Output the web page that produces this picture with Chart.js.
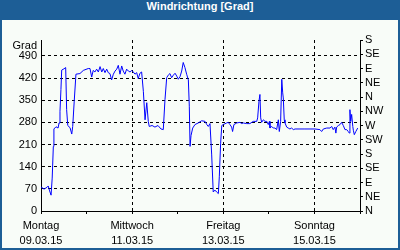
<!DOCTYPE html>
<html>
<head>
<meta charset="utf-8">
<script src="https://cdn.jsdelivr.net/npm/chart.js@4.4.1/dist/chart.umd.min.js"></script>
<style>
  html, body { margin: 0; padding: 0; background: #fff; }
  #frame { width: 400px; height: 250px; box-sizing: border-box; background: #1d5e96; padding: 0 2px 2px 2px; }
  #title { height: 20px; line-height: 20px; color: #fff; text-align: center; font: bold 11px "Liberation Sans", Arial, sans-serif; }
  #plot { width: 396px; height: 228px; background: #f8fcf8; }
  canvas { display: block; }
</style>
</head>
<body>
<div id="frame">
  <div id="title">Windrichtung [Grad]</div>
  <div id="plot"><canvas id="chart" width="396" height="228"></canvas></div>
</div>
<script>
// hours since Monday 09.03.15 00:00
const hours = [
  0, 1.6, 3.2, 3.8, 4.4, 5.3, 5.9, 6.5, 6.8, 7.9,
  9.0, 9.5, 10.0, 10.5, 10.9, 12.1, 13.0, 13.5, 14.1, 15.3,
  16.2, 16.7, 17.5, 18.4, 20.5, 22.3, 24.9, 25.8, 26.7, 27.5,
  28.4, 29.3, 30.2, 31.1, 32.0, 32.8, 33.7, 34.6, 35.4, 36.3,
  37.2, 38.1, 39.0, 39.9, 40.7, 41.6, 42.5, 43.3, 44.2, 45.1,
  46.0, 46.9, 47.8, 48.6, 49.5, 50.4, 51.2, 52.1, 53.0, 53.9,
  54.8, 55.7, 56.5, 57.0, 58.5, 60.0, 61.6, 63.2, 64.4, 65.3,
  66.2, 67.0, 67.9, 68.8, 69.7, 70.6, 71.5, 72.3, 73.2, 74.1,
  74.9, 75.8, 76.7, 77.6, 78.1, 78.5, 79.0, 79.9, 81.1, 82.8,
  84.6, 86.4, 87.3, 88.1, 89.0, 89.9, 90.7, 91.6, 92.5, 93.4,
  93.9, 94.6, 95.2, 96.0, 97.8, 98.6, 99.5, 100.4, 100.9, 101.6,
  103.1, 104.8, 105.7, 106.5, 108.3, 110.0, 111.8, 113.6, 114.1, 114.8,
  115.3, 115.7, 116.2, 117.1, 118.0, 118.9, 119.7, 120.3, 120.6, 121.5,
  122.3, 123.2, 124.1, 125.0, 125.5, 126.2, 126.8, 127.3, 127.6, 128.1,
  128.5, 129.4, 130.2, 131.1, 132.0, 132.9, 133.8, 136.4, 139.0, 141.7,
  144.3, 146.9, 147.8, 148.7, 150.5, 152.2, 153.1, 153.9, 154.8, 155.3,
  155.7, 156.6, 157.5, 158.3, 159.2, 160.1, 161.0, 161.8, 162.4, 162.7,
  163.1, 163.6, 164.2, 164.5, 165.0, 165.8, 166.8
];
// wind direction in degrees
const windDir = [
  76, 69, 75, 79, 66, 50, 104, 204, 259, 266,
  262, 278, 315, 384, 445, 449, 453, 320, 270, 263,
  243, 267, 347, 432, 434, 444, 450, 450, 423, 444,
  439, 448, 439, 456, 439, 450, 437, 448, 437, 434,
  414, 432, 442, 448, 460, 432, 458, 442, 432, 448,
  442, 439, 444, 439, 432, 437, 418, 435, 439, 378,
  288, 342, 283, 267, 270, 265, 270, 259, 257, 352,
  421, 429, 434, 421, 429, 435, 426, 416, 424, 442,
  469, 453, 432, 414, 331, 204, 238, 262, 273, 278,
  285, 283, 273, 267, 276, 177, 60, 66, 60, 55,
  108, 214, 270, 273, 278, 280, 273, 265, 251, 273,
  278, 280, 276, 278, 276, 276, 283, 283, 294, 347,
  368, 294, 280, 288, 283, 283, 273, 283, 262, 267,
  262, 262, 257, 288, 251, 283, 416, 373, 357, 288,
  278, 265, 262, 259, 262, 257, 259, 259, 259, 259,
  259, 257, 251, 259, 262, 262, 267, 257, 265, 246,
  265, 270, 273, 280, 270, 257, 257, 251, 246, 320,
  283, 305, 267, 255, 241, 251, 262
];

const hourTicks = [0, 24, 48, 72, 96, 120, 144, 168];
const dayTicks = [0, 48, 96, 144];
const dayNames = ['Montag', 'Mittwoch', 'Freitag', 'Sonntag'];
const dayDates = ['09.03.15', '11.03.15', '13.03.15', '15.03.15'];
const gradTicks = [0, 70, 140, 210, 280, 350, 420, 490];
const compassTicks = [0, 45, 90, 135, 180, 225, 270, 315, 360, 405, 450, 495, 540];
const compassLabels = ['N', 'NE', 'E', 'SE', 'S', 'SW', 'W', 'NW', 'N', 'NE', 'E', 'SE', 'S'];

const font = { family: '"Liberation Sans", Arial, sans-serif', size: 11 };
const dash = [3, 3];
const clear = 'rgba(0,0,0,0)';

// "Grad" unit label above the left axis
const gradLabel = {
  id: 'gradLabel',
  afterDraw(chart) {
    const { ctx, chartArea } = chart;
    ctx.save();
    ctx.font = '11px "Liberation Sans", Arial, sans-serif';
    ctx.fillStyle = '#000';
    ctx.textAlign = 'right';
    ctx.textBaseline = 'middle';
    ctx.fillText('Grad', chartArea.left - 4, chartArea.top + 6);
    ctx.restore();
  }
};

new Chart(document.getElementById('chart'), {
  type: 'line',
  data: {
    datasets: [{
      data: hours.map((h, i) => ({ x: h, y: windDir[i] })),
      borderColor: '#0000ff',
      borderWidth: 1,
      pointRadius: 0,
      tension: 0,
      fill: false
    }]
  },
  options: {
    responsive: false,
    animation: false,
    devicePixelRatio: 1,
    layout: { padding: { top: 20, left: 0, right: 0, bottom: 0 } },
    plugins: { legend: { display: false }, tooltip: { enabled: false } },
    scales: {
      x: {
        type: 'linear',
        min: 0,
        max: 168,
        afterBuildTicks: s => { s.ticks = hourTicks.map(v => ({ value: v })); },
        afterFit: s => { s.height = 37; },
        grid: {
          color: c => (c.tick && dayTicks.includes(c.tick.value) && c.tick.value > 0) ? '#000' : clear,
          tickColor: '#000',
          tickLength: 3
        },
        border: { color: '#000', width: 1, dash: dash },
        ticks: {
          color: '#000',
          font: { ...font, lineHeight: 1.4 },
          padding: 4,
          maxRotation: 0,
          autoSkip: false,
          callback: v => {
            const i = dayTicks.indexOf(v);
            return i >= 0 ? [dayNames[i], dayDates[i]] : '';
          }
        }
      },
      y: {
        position: 'left',
        min: 0,
        max: 540,
        afterBuildTicks: s => { s.ticks = gradTicks.map(v => ({ value: v })); },
        afterFit: s => { s.width = 39; },
        grid: {
          color: c => (c.tick && c.tick.value > 0) ? '#000' : clear,
          drawTicks: false
        },
        border: { color: '#000', width: 1, dash: dash },
        ticks: { color: '#000', font: font, padding: 4, autoSkip: false }
      },
      y2: {
        position: 'right',
        min: 0,
        max: 540,
        afterBuildTicks: s => { s.ticks = compassTicks.map(v => ({ value: v })); },
        afterFit: s => { s.width = 38; },
        grid: { drawOnChartArea: false, tickColor: '#000', tickLength: 3 },
        border: { color: '#000', width: 1 },
        ticks: {
          color: '#000',
          font: font,
          padding: 2,
          autoSkip: false,
          callback: v => compassLabels[compassTicks.indexOf(v)]
        }
      }
    }
  },
  plugins: [gradLabel]
});
</script>
</body>
</html>
